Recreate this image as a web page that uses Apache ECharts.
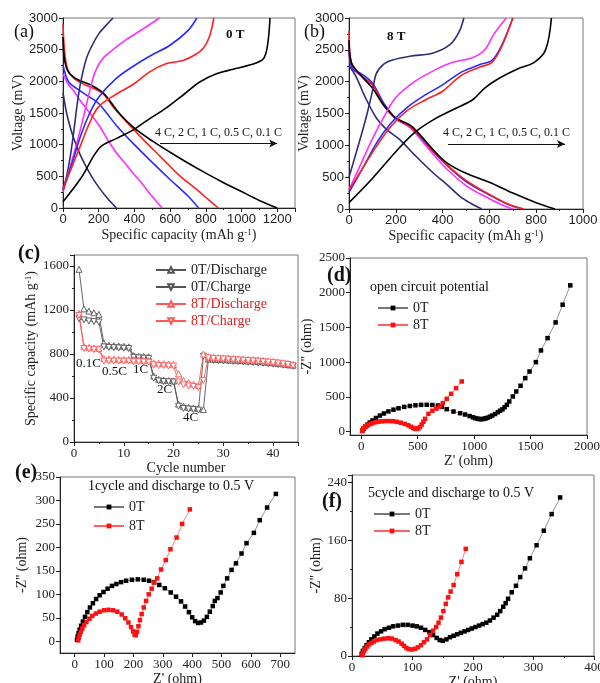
<!DOCTYPE html>
<html>
<head>
<meta charset="utf-8">
<script src="https://cdn.jsdelivr.net/npm/echarts@6/dist/echarts.min.js"></script>
<style>
  html, body { margin: 0; padding: 0; background: #fff; }
  #main { width: 600px; height: 683px; }
</style>
</head>
<body>
<div id="main"></div>
<script>
// ---------- data ----------
// (a) 0 T : capacity (mAh/g), voltage (mV)
var a_dis_4C  = [[0,1820],[20,1500],[40,1280],[60,1100],[80,950],[100,820],[130,650],[160,500],[200,330],[250,150],[300,0]];
var a_dis_2C  = [[0,2120],[30,1950],[60,1850],[93,1710],[150,1500],[205,1290],[250,1080],[300,870],[350,700],[392,553],[450,360],[500,180],[555,0]];
var a_dis_1C  = [[0,2260],[30,2000],[80,1880],[150,1750],[200,1650],[250,1480],[300,1300],[400,1000],[500,720],[600,450],[700,190],[760,0]];
var a_dis_05C = [[0,2900],[8,2500],[25,2200],[60,2050],[120,1950],[200,1850],[240,1760],[280,1600],[350,1380],[450,1080],[550,800],[650,520],[750,290],[820,120],[870,0]];
var a_dis_01C = [[0,2700],[8,2350],[30,2150],[80,2030],[150,1950],[220,1830],[260,1700],[320,1480],[400,1260],[500,1060],[600,880],[700,710],[800,550],[900,400],[1000,260],[1100,120],[1200,0]];
var a_chg_4C  = [[0,300],[20,500],[40,800],[60,1200],[80,1650],[100,2000],[130,2350],[160,2550],[200,2750],[240,2880],[280,3000]];
var a_chg_2C  = [[0,250],[40,650],[80,1050],[120,1500],[150,1850],[180,2150],[220,2350],[280,2500],[350,2650],[450,2830],[540,3000]];
var a_chg_1C  = [[0,280],[50,700],[100,1150],[150,1500],[200,1750],[300,2050],[400,2250],[500,2420],[600,2570],[700,2800],[750,3000]];
var a_chg_05C = [[0,300],[50,650],[100,1000],[150,1350],[200,1600],[300,1800],[392,1950],[486,2150],[580,2280],[673,2330],[740,2420],[785,2520],[820,2700],[845,3000]];
var a_chg_01C = [[0,100],[100,470],[205,950],[300,1100],[392,1230],[480,1400],[579,1580],[680,1800],[766,1990],[860,2120],[953,2190],[1050,2260],[1121,2350],[1145,2550],[1160,3000]];

// (b) 8 T
var b_dis_4C  = [[0,2250],[30,2080],[70,1750],[117,1430],[160,1250],[217,1090],[280,850],[360,565],[420,380],[474,200],[520,90],[567,0]];
var b_dis_2C  = [[0,2450],[15,2200],[50,2100],[100,1950],[150,1650],[200,1420],[260,1280],[300,1120],[360,860],[420,620],[503,360],[600,160],[650,70],[700,0]];
var b_dis_1C  = [[0,2500],[15,2200],[50,2130],[100,1980],[150,1650],[200,1420],[260,1300],[300,1150],[360,900],[420,680],[500,430],[600,220],[680,70],[745,0]];
var b_dis_05C = [[0,2800],[10,2300],[50,2100],[100,1950],[150,1620],[200,1420],[260,1300],[300,1160],[360,910],[420,690],[500,450],[600,230],[680,80],[745,0]];
var b_dis_01C = [[0,2650],[10,2300],[50,2100],[100,1900],[150,1620],[200,1430],[260,1320],[300,1180],[360,930],[420,720],[500,560],[600,420],[700,250],[800,100],[880,0]];
var b_chg_4C  = [[0,500],[40,1000],[74,1450],[100,1850],[117,2130],[150,2280],[190,2345],[260,2400],[360,2450],[431,2580],[470,2780],[491,3000]];
var b_chg_2C  = [[0,300],[50,700],[100,1100],[150,1450],[200,1750],[280,2000],[360,2170],[440,2300],[530,2380],[580,2500],[620,2750],[672,3000]];
var b_chg_1C  = [[0,260],[60,650],[120,1050],[180,1350],[250,1600],[330,1800],[400,1950],[480,2150],[560,2270],[610,2330],[650,2550],[700,3000]];
var b_chg_05C = [[0,300],[60,650],[120,1000],[180,1300],[250,1550],[330,1720],[400,1850],[480,2100],[560,2230],[610,2300],[650,2530],[700,3000]];
var b_chg_01C = [[0,100],[100,480],[200,900],[280,1200],[360,1400],[450,1570],[530,1720],[580,1900],[640,2050],[720,2200],[790,2300],[840,2500],[865,3000]];

// (c) rate capability, cycles 1..44
var cycles = [1,2,3,4,5,6,7,8,9,10,11,12,13,14,15,16,17,18,19,20,21,22,23,24,25,26,27,28,29,30,31,32,33,34,35,36,37,38,39,40,41,42,43,44];
var c_0T_dis = [1570,1210,1190,1175,1160,900,880,875,872,870,865,785,780,778,775,600,570,562,558,555,345,325,315,310,305,295,755,752,750,748,746,744,742,739,737,734,731,728,724,720,715,710,704,698];
var c_0T_chg = [1120,1110,1100,1095,1090,865,860,858,855,852,850,770,765,762,760,580,555,550,548,545,325,305,300,295,290,780,745,742,740,738,735,733,731,728,725,722,719,716,712,708,704,699,694,688];
var c_8T_dis = [1170,870,860,855,850,760,755,755,750,750,750,745,745,740,740,720,715,712,710,705,620,560,540,525,515,800,775,770,768,765,762,760,757,754,751,748,745,741,737,732,727,721,714,705];
var c_8T_chg = [1150,850,845,840,838,735,735,735,735,735,735,730,730,728,725,700,695,695,690,690,545,520,510,505,495,560,765,760,757,755,752,749,746,743,740,737,734,730,726,722,717,711,704,694];

// (d) open circuit potential : Z', -Z''
var d_0T = [[8,12],[20,40],[35,70],[55,100],[75,130],[100,160],[130,195],[165,230],[200,260],[240,290],[285,315],[330,335],[380,355],[430,368],[480,378],[530,384],[580,385],[630,382],[680,375],[713,355],[757,322],[817,288],[876,264],[920,245],[960,222],[990,205],[1010,193],[1030,185],[1045,180],[1060,178],[1075,180],[1090,184],[1105,191],[1120,200],[1140,214],[1160,230],[1185,252],[1210,278],[1230,300],[1251,320],[1270,350],[1290,385],[1311,433],[1343,505],[1373,577],[1411,659],[1453,769],[1491,865],[1547,1000],[1592,1168],[1651,1346],[1722,1572],[1784,1827],[1852,2106]];
var d_8T = [[8,5],[12,20],[18,35],[25,50],[35,65],[48,80],[62,95],[80,110],[100,122],[125,133],[150,141],[180,147],[210,150],[245,151],[280,148],[315,140],[350,127],[385,110],[415,90],[440,70],[460,52],[475,42],[490,38],[505,45],[520,65],[535,100],[550,140],[565,183],[595,255],[630,300],[665,330],[698,360],[722,409],[757,471],[796,543],[840,625],[890,721]];

// (e) 1 cycle, discharge to 0.5 V
var e_0T = [[8,3],[10,10],[13,17],[17,25],[22,33],[28,42],[35,52],[43,62],[52,72],[62,81],[73,90],[85,98],[98,105],[112,112],[127,118],[142,122],[158,126],[175,129],[195,131],[215,132],[235,131],[253,129],[270,126],[288,120],[307,113],[327,104],[345,95],[362,85],[376,74],[389,62],[400,51],[410,43],[420,39],[430,40],[440,44],[450,52],[460,63],[470,75],[477,86],[486,92],[497,104],[506,118],[519,134],[534,152],[549,166],[568,187],[585,209],[610,231],[630,258],[655,285],[685,314]];
var e_8T = [[12,2],[14,8],[17,14],[21,20],[26,27],[32,34],[40,41],[50,48],[60,54],[72,59],[85,63],[100,66],[115,67],[130,66],[145,63],[160,57],[172,49],[183,40],[192,30],[199,21],[204,14],[208,13],[212,20],[217,32],[222,45],[228,58],[235,72],[243,86],[252,100],[262,112],[270,125],[281,134],[294,153],[310,173],[326,196],[347,221],[366,250],[392,281]];

// (f) 5 cycles, discharge to 0.5 V
var f_0T = [[16,3],[18,7],[21,11],[24,15],[28,19],[32,23],[37,27],[42,31],[48,34],[54,37],[61,39],[68,41],[76,42],[84,43],[92,43],[100,42],[107,41],[114,39],[121,36],[128,33],[134,29],[140,25],[145,22],[150,21],[156,23],[162,26],[168,28],[174,30],[180,32],[186,34],[192,36],[198,38],[204,40],[210,42],[216,44],[222,46],[228,49],[234,53],[240,57],[245,62],[250,68],[254,73],[258,79],[264,88],[271,97],[278,109],[286,121],[294,135],[305,153],[317,173],[330,196],[344,219]];
var f_8T = [[17,1],[18,4],[20,7],[22,10],[25,13],[28,16],[32,18],[36,20],[41,22],[47,23],[53,24],[60,24.5],[66,24],[72,22],[77,20],[82,17],[86,14],[90,11],[94,9.5],[99,9],[104,10],[109,12],[114,15],[119,19],[124,23],[129,29],[134,35],[139,40],[143,46],[147,53],[151,62],[155,72],[159,81],[163,89],[168,98],[174,113],[181,130],[188,148]];

// tick labels for the axes that do not start on a tick
var d_xTicks = [0,500,1000,1500,2000];
var d_yTicks = [0,500,1000,1500,2000,2500];
var e_xTicks = [0,100,200,300,400,500,600,700];
var e_yTicks = [0,50,100,150,200,250,300,350];

// ---------- styles ----------
var SERIF = "'Liberation Serif','Times New Roman',serif";
var SANS = "'Liberation Sans',Arial,sans-serif";
var C4 = '#2e2e78', C2 = '#ff30ff', C1 = '#2a2aff', C05 = '#ff2020', C01 = '#000000';

function axis(opt) {
    var base = {
        gridIndex: opt.g,
        type: 'value',
        min: opt.min, max: opt.max,
        interval: opt.interval,
        name: opt.name,
        nameLocation: 'middle',
        nameGap: opt.gap,
        nameTextStyle: {
            fontFamily: SERIF, fontSize: 14, color: '#222',
            rich: { sup: { fontFamily: SERIF, fontSize: 9, verticalAlign: 'top', padding: [0, 0, 6, 0], color: '#222' } }
        },
        axisLine: { show: true, onZero: false, lineStyle: { color: '#222', width: 1 } },
        axisTick: { show: true, inside: false, length: 4, lineStyle: { color: '#222' } },
        minorTick: { show: true, splitNumber: 2, length: 2, lineStyle: { color: '#222' } },
        axisLabel: {
            fontFamily: opt.font || SERIF, fontSize: 13, color: '#222', margin: opt.margin || 5,
            showMaxLabel: opt.showMax === true,
            formatter: function (v) { return String(v); }
        },
        splitLine: { show: false }
    };
    if (opt.rotate) base.nameRotate = opt.rotate;
    if (opt.ticks) {
        base.axisTick.customValues = opt.ticks;
        base.axisLabel.customValues = opt.ticks;
        base.axisLabel.showMaxLabel = true;
        base.minorTick.show = false;
        delete base.interval;
    }
    return base;
}

function curve(name, data, color, gi) {
    return {
        name: name, type: 'line', xAxisIndex: gi, yAxisIndex: gi,
        data: data, smooth: 0.35, symbol: 'none', silent: true,
        lineStyle: { color: color, width: 1.6 }
    };
}

function capSeries(name, values, color, down) {
    var pts = [];
    for (var i = 0; i < cycles.length; i++) pts.push([cycles[i], values[i]]);
    return {
        name: name, type: 'line', xAxisIndex: 2, yAxisIndex: 2, data: pts,
        symbol: down ? 'path://M0,0 L10,0 L5,9 Z' : 'triangle',
        symbolSize: 6, showAllSymbol: true,
        itemStyle: { color: '#fff', borderColor: color, borderWidth: 0.9 },
        lineStyle: { color: color, width: 0.9 }
    };
}

function eisSeries(name, data, color, lineColor, gi) {
    return {
        name: name, type: 'line', xAxisIndex: gi, yAxisIndex: gi, data: data,
        symbol: 'rect', symbolSize: 4.5, showAllSymbol: true,
        itemStyle: { color: color },
        lineStyle: { color: lineColor, width: 0.8 }
    };
}

function arrowLine(x0, x1, y) {
    return {
        silent: true, symbol: ['none', 'arrow'], symbolSize: [6, 8],
        lineStyle: { color: '#111', width: 1, type: 'solid' },
        label: {
            show: true, position: 'insideMiddleTop', distance: 5,
            formatter: '4 C, 2 C, 1 C, 0.5 C, 0.1 C',
            fontFamily: SERIF, fontSize: 12, color: '#111'
        },
        data: [[{ coord: [x0, y] }, { coord: [x1, y] }]]
    };
}

function txt(x, y, s, size, bold, color) {
    return {
        type: 'text', left: x, top: y, silent: true,
        style: { text: s, fontFamily: SERIF, fontSize: size, fontWeight: bold ? 'bold' : 'normal', fill: color || '#111' }
    };
}

var capName = 'Specific capacity (mAh g{sup|-1})';

var myChart = echarts.init(document.getElementById('main'));

var option = {
    backgroundColor: '#fff',
    animation: false,
    grid: [
        { left: 63, top: 18, width: 232, height: 190 },
        { left: 349, top: 18, width: 234, height: 191 },
        { left: 74, top: 255, width: 224, height: 187 },
        { left: 350, top: 258, width: 237, height: 177 },
        { left: 60, top: 477, width: 235, height: 176 },
        { left: 352, top: 475, width: 242, height: 181 }
    ].map(function (g) {
        g.show = true; g.borderColor = '#777'; g.borderWidth = 1; g.backgroundColor = 'transparent';
        g.containLabel = false; g.outerBoundsMode = 'none';
        return g;
    }),
    xAxis: [
        axis({ g: 0, min: 0, max: 1300, interval: 200, name: capName, gap: 20, font: SANS }),
        axis({ g: 1, min: 0, max: 1000, interval: 200, name: capName, gap: 20, font: SANS, showMax: true }),
        axis({ g: 2, min: 0, max: 45, interval: 10, name: 'Cycle number', gap: 16 }),
        axis({ g: 3, min: -100, max: 2000, ticks: d_xTicks, name: "Z' (ohm)", gap: 17 }),
        axis({ g: 4, min: -50, max: 750, ticks: e_xTicks, name: "Z' (ohm)", gap: 17 }),
        axis({ g: 5, min: 0, max: 400, interval: 100, name: "Z' (ohm)", gap: 16, showMax: true })
    ],
    yAxis: [
        axis({ g: 0, min: 0, max: 3000, interval: 500, name: 'Voltage (mV)', gap: 34, font: SANS, showMax: true, rotate: 90 }),
        axis({ g: 1, min: 0, max: 3000, interval: 500, name: 'Voltage (mV)', gap: 37, font: SANS, showMax: true, rotate: 90 }),
        axis({ g: 2, min: 0, max: 1700, interval: 400, name: capName, gap: 35, rotate: 90 }),
        axis({ g: 3, min: -50, max: 2500, ticks: d_yTicks, name: "-Z'' (ohm)", gap: 36, rotate: 90 }),
        axis({ g: 4, min: -25, max: 350, ticks: e_yTicks, name: "-Z'' (ohm)", gap: 31, rotate: 90 }),
        axis({ g: 5, min: 0, max: 250, interval: 80, name: "-Z'' (ohm)", gap: 28, rotate: 90 })
    ],
    legend: [
        {
            orient: 'vertical', left: 150, top: 258, itemWidth: 30, itemHeight: 7, itemGap: 3,
            textStyle: { fontFamily: SERIF, fontSize: 14 },
            data: [
                { name: '0T/Discharge', textStyle: { color: '#222' } },
                { name: '0T/Charge', textStyle: { color: '#222' } },
                { name: '8T/Discharge', textStyle: { color: '#e02020' } },
                { name: '8T/Charge', textStyle: { color: '#e02020' } }
            ]
        },
        {
            orient: 'vertical', left: 372, top: 296, itemWidth: 30, itemHeight: 6, itemGap: 3,
            textStyle: { fontFamily: SERIF, fontSize: 14, color: '#222' },
            data: ['0T', '8T']
        },
        {
            orient: 'vertical', left: 88, top: 495, itemWidth: 30, itemHeight: 6, itemGap: 5,
            textStyle: { fontFamily: SERIF, fontSize: 14, color: '#222' },
            data: ['0T', '8T']
        },
        {
            orient: 'vertical', left: 368, top: 502, itemWidth: 36, itemHeight: 6, itemGap: 3,
            textStyle: { fontFamily: SERIF, fontSize: 14, color: '#222' },
            data: ['0T', '8T']
        }
    ],
    graphic: [
        txt(14, 23, '(a)', 18),
        txt(226, 28, '0 T', 13, true),
        txt(304, 23, '(b)', 18),
        txt(387, 30, '8 T', 13, true),
        txt(18, 244, '(c)', 20, true),
        txt(327, 266, '(d)', 20, true),
        txt(15, 463, '(e)', 20, true),
        txt(322, 492, '(f)', 20, true),
        txt(76, 357, '0.1C', 13),
        txt(102, 365, '0.5C', 13),
        txt(133, 363, '1C', 13),
        txt(157, 383, '2C', 13),
        txt(183, 411, '4C', 13),
        txt(370, 280, 'open circuit potential', 14),
        txt(88, 479, '1cycle and discharge to 0.5 V', 14),
        txt(368, 486, '5cycle and discharge to 0.5 V', 14)
    ],
    series: [
        curve('a4d', a_dis_4C, C4, 0), curve('a2d', a_dis_2C, C2, 0), curve('a1d', a_dis_1C, C1, 0),
        curve('a05d', a_dis_05C, C05, 0), curve('a01d', a_dis_01C, C01, 0),
        curve('a4c', a_chg_4C, C4, 0), curve('a2c', a_chg_2C, C2, 0), curve('a1c', a_chg_1C, C1, 0),
        curve('a05c', a_chg_05C, C05, 0), curve('a01c', a_chg_01C, C01, 0),
        curve('b4d', b_dis_4C, C4, 1), curve('b2d', b_dis_2C, C2, 1), curve('b1d', b_dis_1C, C1, 1),
        curve('b05d', b_dis_05C, C05, 1), curve('b01d', b_dis_01C, C01, 1),
        curve('b4c', b_chg_4C, C4, 1), curve('b2c', b_chg_2C, C2, 1), curve('b1c', b_chg_1C, C1, 1),
        curve('b05c', b_chg_05C, C05, 1), curve('b01c', b_chg_01C, C01, 1),
        capSeries('0T/Discharge', c_0T_dis, '#555', false),
        capSeries('0T/Charge', c_0T_chg, '#555', true),
        capSeries('8T/Discharge', c_8T_dis, '#ff5a5a', false),
        capSeries('8T/Charge', c_8T_chg, '#ff5a5a', true),
        eisSeries('0T', d_0T, '#000', '#777', 3),
        eisSeries('8T', d_8T, '#ff1010', '#ff6060', 3),
        eisSeries('0T', e_0T, '#000', '#777', 4),
        eisSeries('8T', e_8T, '#ff1010', '#ff6060', 4),
        eisSeries('0T', f_0T, '#000', '#777', 5),
        eisSeries('8T', f_8T, '#ff1010', '#ff6060', 5)
    ]
};

// arrows with rate labels in (a) and (b)
option.series[4].markLine = arrowLine(544, 1200, 1020);
option.series[14].markLine = arrowLine(423, 923, 1020);

myChart.setOption(option);
window.addEventListener("resize", function () {
    myChart.resize();
});
</script>
</body>
</html>
